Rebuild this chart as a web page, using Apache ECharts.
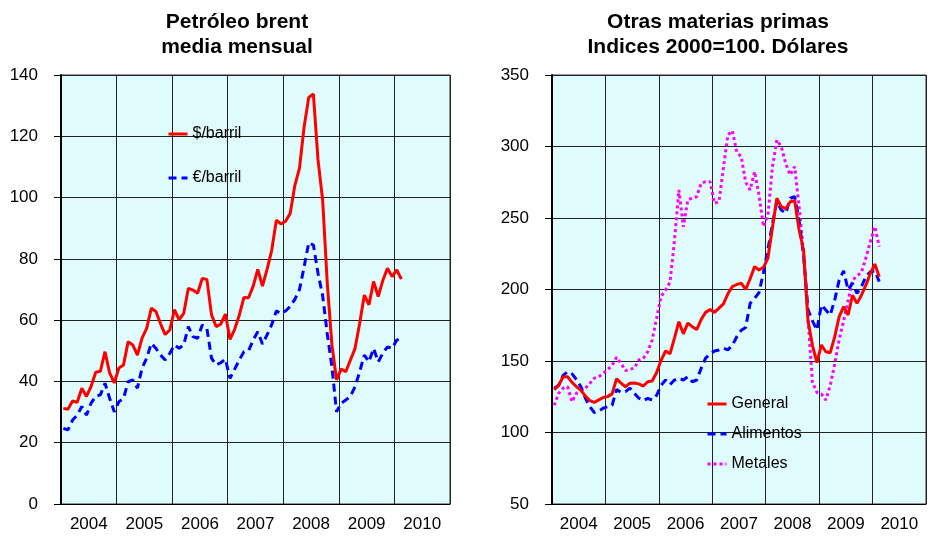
<!DOCTYPE html>
<html>
<head>
<meta charset="utf-8">
<script src="https://cdn.jsdelivr.net/npm/echarts@6/dist/echarts.min.js"></script>
<style>
  html, body { margin: 0; padding: 0; background: #fff; }
  #chart { width: 929px; height: 537px; }
</style>
</head>
<body>
<div id="chart"></div>
<script>
// meses desde ene-2004 hasta feb-2010
const years = ["2004", "2005", "2006", "2007", "2008", "2009", "2010"];

// Petróleo brent, media mensual
const brentUsd = [
  31.2, 30.9, 33.6, 33.2, 37.8, 35.1, 38.4, 43.0, 43.3, 49.7, 42.8, 39.5,
  44.4, 45.4, 53.0, 51.9, 48.6, 54.1, 57.3, 63.9, 62.8, 58.8, 55.3, 56.8,
  63.4, 60.1, 62.2, 70.4, 69.8, 68.8, 73.6, 73.3, 61.8, 57.9, 58.7, 62.0,
  53.7, 57.0, 61.6, 67.4, 67.3, 71.1, 76.6, 71.1, 76.6, 82.8, 92.6, 91.4,
  92.3, 94.9, 104.0, 109.6, 123.1, 132.7, 133.8, 112.3, 99.2, 72.0, 52.0, 40.5,
  44.0, 43.2, 47.0, 50.8, 59.0, 68.2, 65.0, 72.6, 67.7, 73.0, 76.9, 74.2,
  76.4, 73.4
];
const brentEur = [
  24.7, 24.2, 27.4, 29.0, 31.8, 29.0, 32.9, 35.2, 35.6, 39.4, 34.5, 30.1,
  33.4, 34.5, 39.9, 40.5, 37.8, 44.3, 47.6, 52.4, 50.8, 48.6, 47.0, 49.2,
  51.9, 50.8, 51.9, 57.9, 54.6, 54.1, 58.4, 57.3, 47.6, 45.4, 46.1, 47.3,
  41.0, 44.0, 47.0, 49.7, 50.0, 53.5, 56.2, 52.2, 55.2, 58.5, 63.0, 62.2,
  63.0, 64.5, 66.8, 70.0, 77.4, 85.3, 84.5, 75.3, 68.0, 55.5, 44.8, 30.1,
  32.9, 33.9, 35.2, 38.3, 43.2, 48.6, 46.4, 50.8, 46.4, 49.2, 51.3, 50.8,
  53.5, 54.1
];

// Otras materias primas, indices 2000=100
const general = [
  130, 133, 139, 139, 135, 132, 129.5, 125.5, 122.3, 121, 122.8, 124.5,
  125.1, 127, 137.6, 134.5, 132, 134.5, 134.6, 134, 132.5, 135.5, 136, 142,
  150.5, 157, 155, 166, 177.5, 169, 176.5, 174, 172, 179, 184, 186,
  184, 187, 190, 197, 202, 203.5, 204.5, 200, 207.5, 216, 213.6, 215.5,
  222, 243, 263.8, 257.9, 256.5, 261.4, 262.1, 241.6, 227.6, 178, 161, 148.8,
  161.2, 156.5, 155.8, 167, 181, 188, 182.2, 196, 190.3, 196, 203, 211.3,
  217.8, 209
];
const alimentos = [
  131, 133, 140, 142.5, 141, 137, 132, 124, 118, 114, 115, 117,
  118, 119, 130, 128, 128.6, 131, 127.4, 124, 122.3, 123.9, 122.7, 126,
  133, 136.7, 133.5, 136.7, 138, 136.7, 139, 135.5, 136.7, 144.8, 152, 155,
  157, 157.7, 159, 157.8, 161, 167, 171.5, 173.5, 190.3, 193.8, 197.8, 212,
  228, 246, 261.4, 255.6, 253.3, 263.8, 265, 248, 224, 186, 178, 171.7,
  189.2, 185.7, 182.2, 192.7, 206.6, 213, 199.7, 204.3, 197.3, 202, 209, 212.4,
  213, 205.5
];
const metales = [
  119, 127.4, 131, 132, 121.5, 127.4, 129.7, 131, 134.4, 138, 139, 141.4,
  144, 147, 152.6, 148.4, 143.3, 144.2, 145, 150.7, 151.9, 156.5, 164.7, 180,
  195, 199.7, 205, 234, 269.6, 243.9, 262.6, 264, 264.9, 274.3, 275.4, 275.4,
  260.3, 261.4, 285, 308, 311, 296, 292.9, 275, 269.6, 282.4, 266, 244,
  252, 285.5, 304.5, 299.9, 288, 280.1, 285.9, 258, 225.3, 180, 135, 128,
  127, 122.7, 133, 148, 165, 178, 192, 206.6, 209.5, 212, 222, 233.4,
  244, 230
];

const FONT = "'Liberation Sans', Arial, sans-serif";
const toPoints = arr => arr.map((v, i) => [i + 0.5, v]);

function mainX(gridIndex) {
  return {
    type: "value", gridIndex: gridIndex, position: "bottom",
    min: 0, max: 84, interval: 12,
    axisLine: { show: true, lineStyle: { color: "#000", width: 1 } },
    axisTick: { show: false },
    axisLabel: { show: false },
    splitLine: { show: true, lineStyle: { color: "#222", width: 1 } }
  };
}
// eje auxiliar solo para poner los años en el centro de cada banda
function labelX(gridIndex) {
  return {
    type: "value", gridIndex: gridIndex, position: "bottom",
    min: 0, max: 84, interval: 6,
    axisLine: { show: false },
    axisTick: { show: false },
    splitLine: { show: false },
    axisLabel: {
      show: true, margin: 12, color: "#000", fontSize: 17, fontFamily: FONT,
      formatter: function (v) {
        return v % 12 === 6 ? years[(v - 6) / 12] : "";
      }
    }
  };
}
function valueY(gridIndex, min, max, interval) {
  return {
    type: "value", gridIndex: gridIndex, min: min, max: max, interval: interval,
    axisLine: { show: true, lineStyle: { color: "#000", width: 2 } },
    axisTick: { show: true, length: 7, lineStyle: { color: "#000", width: 1 } },
    axisLabel: { margin: 23, color: "#000", fontSize: 17, fontFamily: FONT },
    splitLine: { show: true, lineStyle: { color: "#222", width: 1 } }
  };
}
function lineSeries(name, data, x, y, color, type) {
  return {
    name: name, type: "line", xAxisIndex: x, yAxisIndex: y,
    data: toPoints(data), symbol: "none", smooth: false,
    lineStyle: { color: color, width: 3, type: type },
    itemStyle: { color: color },
    z: 3
  };
}
const legendBase = {
  orient: "vertical", itemWidth: 19, itemHeight: 14,
  itemStyle: { color: "rgba(0,0,0,0)", borderWidth: 0 },
  lineStyle: { width: 3 },
  textStyle: { fontSize: 16, fontFamily: FONT, color: "#000" }
};

const chart = echarts.init(document.getElementById("chart"));
const option = {
  animation: false,
  backgroundColor: "#fff",
  graphic: [
    {
      type: "text", x: 237, y: 10,
      style: {
        text: "Petróleo brent\nmedia mensual", textAlign: "center",
        font: "bold 21px " + FONT, lineHeight: 25, fill: "#000"
      }
    },
    {
      type: "text", x: 718, y: 10,
      style: {
        text: "Otras materias primas\nIndices 2000=100. Dólares", textAlign: "center",
        font: "bold 21px " + FONT, lineHeight: 25, fill: "#000"
      }
    }
  ],
  grid: [
    { left: 61, top: 75, width: 389, height: 429, show: true,
      backgroundColor: "#e0fbfb", borderColor: "#333", borderWidth: 1 },
    { left: 552, top: 75, width: 390, height: 429, show: true,
      backgroundColor: "#e0fbfb", borderColor: "#333", borderWidth: 1 }
  ],
  xAxis: [mainX(0), labelX(0), mainX(1), labelX(1)],
  yAxis: [valueY(0, 0, 140, 20), valueY(1, 50, 350, 50)],
  legend: [
    Object.assign({}, legendBase, {
      data: ["$/barril", "€/barril"], left: 162, top: 121, itemGap: 28
    }),
    Object.assign({}, legendBase, {
      data: ["General", "Alimentos", "Metales"], left: 701, top: 391, itemGap: 14
    })
  ],
  series: [
    lineSeries("$/barril", brentUsd, 0, 0, "#ff0000", "solid"),
    lineSeries("€/barril", brentEur, 0, 0, "#0000ff", [8, 5]),
    lineSeries("Metales", metales, 2, 1, "#ff00ff", [3, 3]),
    lineSeries("Alimentos", alimentos, 2, 1, "#0000ff", [8, 5]),
    lineSeries("General", general, 2, 1, "#ff0000", "solid")
  ]
};
chart.setOption(option);
</script>
</body>
</html>
